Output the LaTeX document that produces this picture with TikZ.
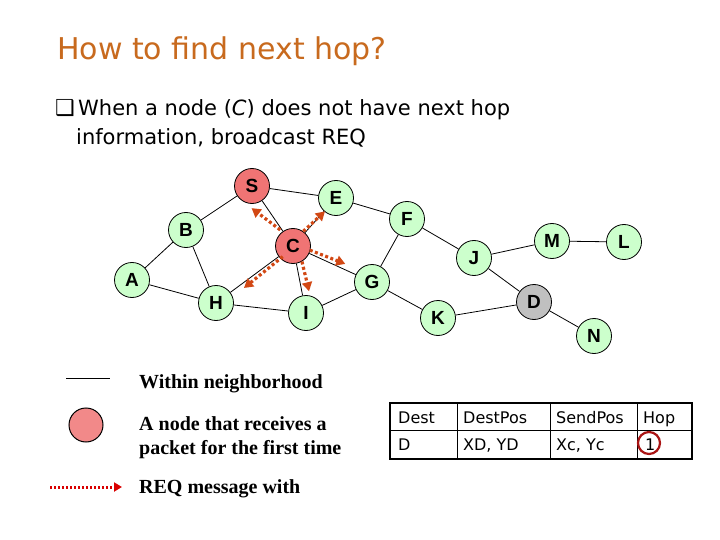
\documentclass[tikz,border=0pt]{standalone}
\usepackage{fontspec}
\setmainfont{DejaVu Sans}
\newfontfamily\arialfont{Liberation Sans}
\newfontfamily\timesfont{Liberation Serif}
\usetikzlibrary{arrows.meta}
\definecolor{nodegreen}{RGB}{204,255,204}
\definecolor{nodered}{RGB}{240,116,116}
\definecolor{nodegray}{RGB}{192,192,192}
\definecolor{reqorange}{RGB}{210,72,20}
\definecolor{titlebrown}{RGB}{200,106,30}
\definecolor{hopred}{RGB}{170,20,20}
\tikzset{
  host/.style={circle, draw, line width=0.8pt, fill=nodegreen, minimum size=35pt,
    inner sep=0pt, font=\arialfont\bfseries\fontsize{19}{19}\selectfont},
  sent/.style={host, fill=nodered},
  dest/.style={host, fill=nodegray},
  link/.style={line width=0.8pt},
  req/.style={draw=reqorange, line width=3.2pt, dash pattern=on 3pt off 2.5pt,
    -{Triangle[length=9pt,width=10pt]}},
  legtext/.style={anchor=base west, inner sep=0pt, font=\timesfont\bfseries\fontsize{20}{24}\selectfont},
  cell/.style={anchor=base west, inner sep=0pt, font=\fontsize{16}{16}\selectfont}
}
\begin{document}
\begin{tikzpicture}[x=1pt, y=-1pt]
  \useasboundingbox (0,0) rectangle (720,540);

  % title and bullet
  \node[anchor=base west, inner sep=0pt, text=titlebrown, font=\fontsize{30}{30}\selectfont]
    (title) at (57,60) {How to find next hop?};
  \node[anchor=base west, inner sep=0pt, font=\fontsize{22}{22}\selectfont] (bul) at (55,116) {❑};
  \node[anchor=base west, inner sep=0pt, font=\fontsize{21}{21}\selectfont] (line1) at (78,116)
    {When a node (\textit{C}) does not have next hop};
  \node[anchor=base west, inner sep=0pt, font=\fontsize{21}{21}\selectfont] (line2) at (76,145)
    {information, broadcast REQ};

  % hosts
  \node[sent] (S) at (252,186) {S};
  \node[host] (E) at (336,198) {E};
  \node[host] (F) at (407,219) {F};
  \node[host] (B) at (186,230) {B};
  \node[sent] (C) at (293,246) {C};
  \node[host] (A) at (132,280) {A};
  \node[host] (G) at (372,282) {G};
  \node[host] (H) at (216,303) {H};
  \node[host] (I) at (306,313) {I};
  \node[host] (J) at (474,258) {J};
  \node[host] (M) at (552,241) {M};
  \node[host] (L) at (624,242) {L};
  \node[dest] (D) at (534,302) {D};
  \node[host] (K) at (438,318) {K};
  \node[host] (N) at (594,336) {N};

  % neighbourhood
  \draw[link] (S)--(E) (S)--(B) (S)--(C) (B)--(A) (B)--(H) (A)--(H);
  \draw[link] (C)--(E) (C)--(G) (C)--(H) (C)--(I) (H)--(I) (I)--(G);
  \draw[link] (E)--(F) (F)--(G) (G)--(K) (F)--(J) (J)--(M) (M)--(L);
  \draw[link] (J)--(D) (K)--(D) (D)--(N);

  % REQ broadcast from C
  \draw[req, shorten <=1pt, shorten >=7pt] ([xshift=-3pt]C.120) -- ([xshift=-6pt]S.south);
  \draw[req, shorten >=1pt] (C.55) -- ([yshift=2pt]E.235);
  \draw[req, shorten >=12pt] ([yshift=2pt]C.-20) -- ([xshift=-4pt]G.130);
  \draw[req, shorten >=4pt] (C.-60) -- ([xshift=4pt]I.north);
  \draw[req, shorten >=16pt] ([yshift=4pt]C.-125) -- ([yshift=-4pt]H.30);

  % legend
  \coordinate (lnA) at (66,378);
  \coordinate (lnB) at (110,378);
  \draw[line width=0.8pt] (lnA) -- (lnB);
  \node[legtext] (lg1) at (139,388) {Within neighborhood};
  \node[circle, draw, line width=1pt, fill=nodered!85!white, minimum size=34pt] (lgc) at (86,425) {};
  \node[legtext] (lg2) at (139,430) {A node that receives a};
  \node[legtext] (lg3) at (139,454) {packet for the first time};
  \coordinate (arA) at (50,487);
  \coordinate (arB) at (122,487);
  \draw[draw=red!85!black, line width=3pt, dash pattern=on 2pt off 2pt,
    -{Triangle[length=8pt,width=9pt]}] (arA) -- (arB);
  \node[legtext] (lg4) at (139,493) {REQ message with};

  % header table
  \draw[line width=1.2pt] (390,403) rectangle (692,459);
  \draw[line width=0.8pt] (390,430) -- (692,430);
  \draw[line width=0.8pt] (457,403) -- (457,459) (550,403) -- (550,459) (637,403) -- (637,459);
  \node[cell] (h1) at (398,423) {Dest};
  \node[cell] (h2) at (463,423) {DestPos};
  \node[cell] (h3) at (556,423) {SendPos};
  \node[cell] (h4) at (643,423) {Hop};
  \node[cell] (d1) at (398,450) {D};
  \node[cell] (d2) at (463,450) {XD, YD};
  \node[cell] (d3) at (556,450) {Xc, Yc};
  \node[cell] (d4) at (645,450) {1};
  \draw[hopred, line width=2.2pt] (649,443) ellipse (11 and 11);
\end{tikzpicture}
\end{document}
